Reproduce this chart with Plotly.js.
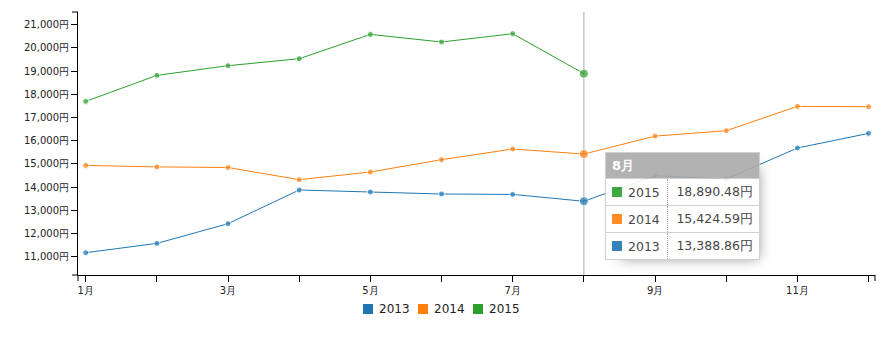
<!DOCTYPE html>
<html><head><meta charset="utf-8">
<script src="https://cdn.plot.ly/plotly-3.0.1.min.js"></script>
<style>
html,body{margin:0;padding:0;background:#fff;}
#wrap{position:relative;width:887px;height:361px;overflow:hidden;}
#chart{position:absolute;left:0;top:0;width:887px;height:361px;}
.legitem{position:absolute;top:302px;height:14px;font-family:"DejaVu Sans";font-size:12px;line-height:14px;color:#222;white-space:nowrap;}
.legitem span.sw{display:inline-block;width:10px;height:10px;margin-right:6px;vertical-align:-1px;}
#tip{position:absolute;left:605px;top:152px;opacity:0.9;box-shadow:7px 7px 12px -9px rgb(119,119,119);}
#tip table{border-collapse:collapse;border-spacing:0;background:#fff;font-family:"DejaVu Sans";width:154px;table-layout:fixed;}
#tip tr{border:1px solid #ccc;}
#tip th{background:#aaa;color:#fff;font-size:13px;font-weight:bold;text-align:left;padding:0 6px;height:25px;}
#tip td{font-size:12.5px;color:#333;padding:0 6px;height:26px;background:#fff;white-space:nowrap;}
#tip td.value{text-align:right;border-left:1px dotted #999;}
#tip td span{display:inline-block;width:10px;height:10px;margin-right:6px;}
</style></head><body>
<div id="wrap"><div id="chart"></div><div id="legend"></div><div id="tip"></div></div>
<script>
// ---- data ----
const monthNums = [1,2,3,4,5,6,7,8,9,10,11,12];
const monthNames = ['1月','2月','3月','4月','5月','6月','7月','8月','9月','10月','11月','12月'];
const tickLabels = ['1月','','3月','','5月','','7月','','9月','','11月',''];
const yTicks = [11000,12000,13000,14000,15000,16000,17000,18000,19000,20000,21000];
const seriesNames = ['2013','2014','2015'];
const sales2013 = [11172, 11573, 12422, 13875, 13788, 13702, 13685, 13388.86, 14491, 14345, 15685, 16315];
const sales2014 = [14935, 14870, 14845, 14319, 14651, 15181, 15642, 15424.59, 16198, 16431, 17478, 17466];
const sales2015 = [17694, 18815, 19233, 19534, 20582, 20254, 20612, 18890.48];
const colors = ['#1f77b4','#ff7f0e','#2ca02c'];
const focusIndex = 7;

const allSeries = [sales2013, sales2014, sales2015];
const yTickLabels = yTicks.map(v => v.toLocaleString('en-US') + '円');

const traces = allSeries.map((vals, i) => ({
  type: 'scatter',
  mode: 'lines+markers',
  name: seriesNames[i],
  x: monthNums.slice(0, vals.length),
  y: vals,
  line: {color: colors[i], width: 1},
  marker: {color: colors[i], size: vals.map((v, j) => j === focusIndex ? 9 : 6)},
  showlegend: false,
  hoverinfo: 'skip'
}));

const axisEndTick = (opts) => Object.assign({type:'line', layer:'above', line:{color:'#000', width:1}}, opts);

const layout = {
  width: 887, height: 361,
  margin: {l: 78, r: 12, t: 12, b: 86},
  paper_bgcolor: '#fff', plot_bgcolor: '#fff',
  font: {family: '"DejaVu Sans", sans-serif', size: 10, color: '#222'},
  showlegend: false,
  hovermode: false,
  xaxis: {
    range: [0.892, 12.09],
    tickmode: 'array', tickvals: monthNums, ticktext: tickLabels,
    ticks: 'outside', ticklen: 6, tickcolor: '#000', tickwidth: 1,
    showline: true, linecolor: '#000', linewidth: 1,
    showgrid: false, zeroline: false,
    tickfont: {size: 10, color: '#222'}
  },
  yaxis: {
    range: [10211, 21547],
    tickmode: 'array', tickvals: yTicks, ticktext: yTickLabels,
    ticks: 'outside', ticklen: 6, tickcolor: '#000', tickwidth: 1,
    showline: true, linecolor: '#000', linewidth: 1,
    showgrid: false, zeroline: false,
    tickfont: {size: 10, color: '#222'}
  },
  shapes: [
    {type:'line', xref:'x', yref:'paper', x0: monthNums[focusIndex], x1: monthNums[focusIndex], y0: 0, y1: 1, line:{color:'#aaa', width:1}, layer:'below'},
    axisEndTick({xref:'paper', yref:'paper', xsizemode:'pixel', xanchor:0, x0:-6, x1:0, y0:1, y1:1}),
    axisEndTick({xref:'paper', yref:'paper', xsizemode:'pixel', xanchor:0, x0:-6, x1:0, y0:0, y1:0}),
    axisEndTick({xref:'paper', yref:'paper', ysizemode:'pixel', yanchor:0, y0:0, y1:-6, x0:0, x1:0}),
    axisEndTick({xref:'paper', yref:'paper', ysizemode:'pixel', yanchor:0, y0:0, y1:-6, x0:1, x1:1})
  ]
};

Plotly.newPlot('chart', traces, layout, {displayModeBar: false, staticPlot: true});

// ---- legend ----
const legend = document.getElementById('legend');
seriesNames.forEach((name, i) => {
  const d = document.createElement('div');
  d.className = 'legitem';
  d.style.left = (363 + i * 55) + 'px';
  d.innerHTML = '<span class="sw" style="background:' + colors[i] + '"></span>' + name;
  legend.appendChild(d);
});

// ---- tooltip ----
const fmt = v => v.toLocaleString('en-US', {minimumFractionDigits: 2, maximumFractionDigits: 2}) + '円';
let html = '<table><colgroup><col style="width:62px"><col style="width:92px"></colgroup>';
html += '<tr><th colspan="2">' + monthNames[focusIndex] + '</th></tr>';
for (let i = allSeries.length - 1; i >= 0; i--) {
  html += '<tr><td><span style="background:' + colors[i] + '"></span>' + seriesNames[i] + '</td><td class="value">' + fmt(allSeries[i][focusIndex]) + '</td></tr>';
}
html += '</table>';
document.getElementById('tip').innerHTML = html;
</script>
</body></html>
